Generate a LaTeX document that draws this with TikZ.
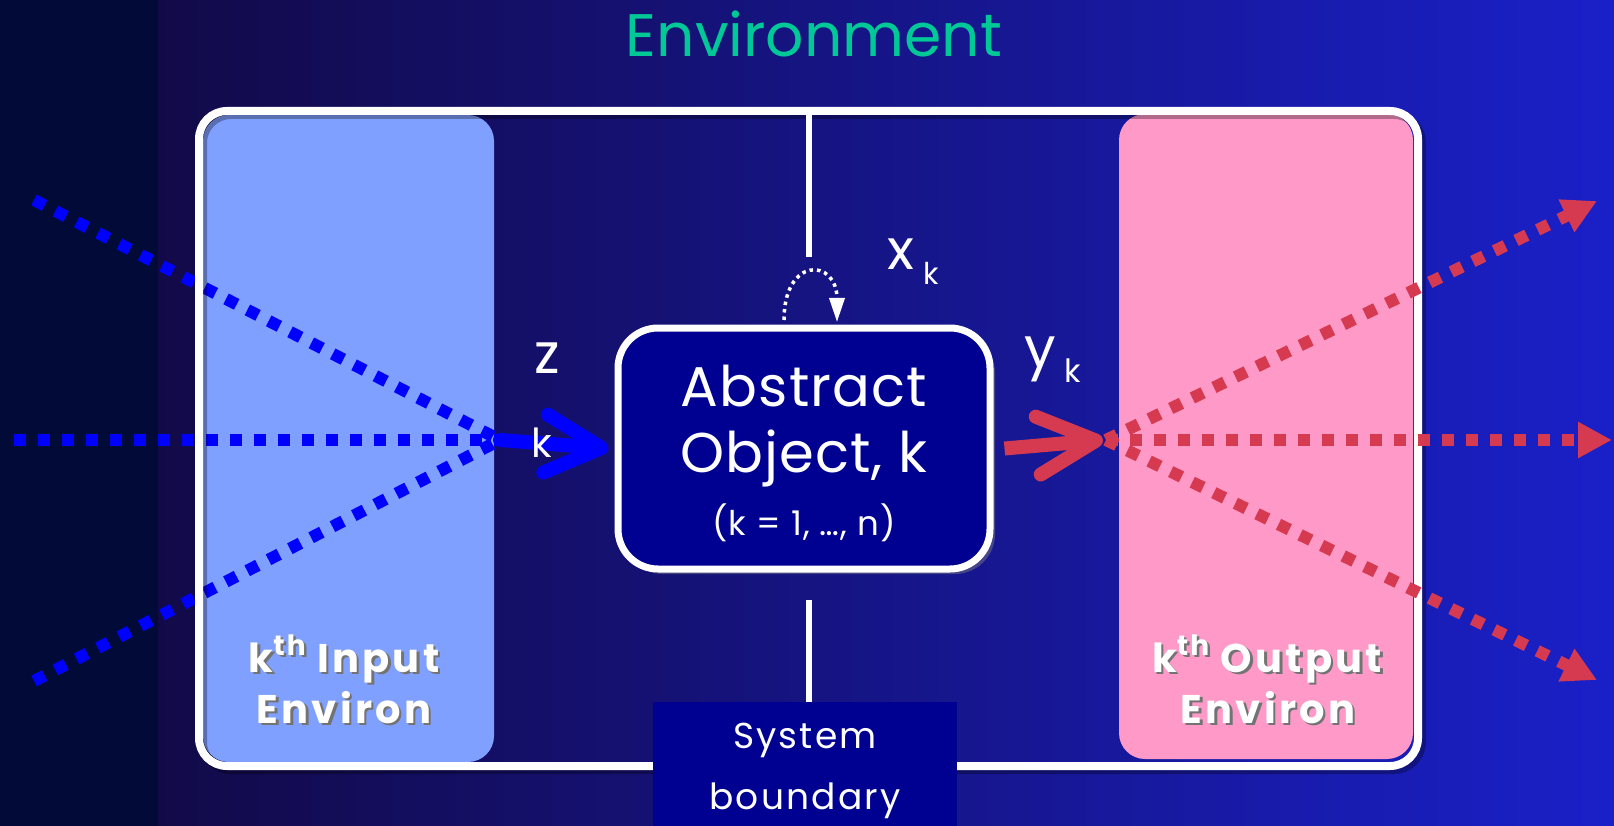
\documentclass[tikz,border=0pt]{standalone}
\usepackage{fontspec}
\setmainfont{Poppins}
\usetikzlibrary{arrows.meta,shadows}
\definecolor{stripc}{RGB}{2,10,55}
\definecolor{gradl}{RGB}{18,10,72}
\definecolor{gradr}{RGB}{26,32,200}
\definecolor{inpc}{RGB}{128,160,255}
\definecolor{outpc}{RGB}{255,153,200}
\definecolor{navyc}{RGB}{0,0,145}
\definecolor{envc}{RGB}{0,200,150}
\definecolor{bluec}{RGB}{0,0,255}
\definecolor{redc}{RGB}{214,58,80}
\newcommand\shtxt[1]{\leavevmode\rlap{\kern2.5pt\raisebox{-2.5pt}{\textcolor{black!55}{#1}}}#1}
\newcommand\fsz[1]{\fontsize{#1}{#1}\selectfont}
\newcommand\kth{k\raisebox{0.42em}{\fsz{28}th}}
\begin{document}
\begin{tikzpicture}[x=1pt,y=-1pt,
  panelbox/.style={rounded corners=26pt, inner sep=0pt, outer sep=0pt},
  framebox/.style={draw=white, line width=8pt, rounded corners=28pt, inner sep=0pt},
  objbox/.style={draw=white, fill=navyc, line width=7pt, rounded corners=40pt, inner sep=0pt,
    drop shadow={shadow xshift=5pt, shadow yshift=-5pt, opacity=0.45}},
  sysbox/.style={fill=navyc, inner sep=0pt},
  lbl/.style={text=white, inner sep=0pt, anchor=base},
  plabel/.style={text=white, inner sep=0pt, anchor=base, font=\bfseries\fsz{40}\addfontfeature{LetterSpace=8}},
  bdotline/.style={draw=bluec, line width=12pt, dash pattern=on 12pt off 12pt},
  rdotline/.style={draw=redc, line width=12pt, dash pattern=on 12pt off 12pt, -{Triangle[length=34pt,width=34pt]}},
  bthick/.style={draw=bluec, line width=14pt, line cap=round, -{Straight Barb[length=56pt,width=58pt,round]}},
  rthick/.style={draw=redc, line width=14pt, -{Straight Barb[length=58pt,width=58pt,round]}},
  vline/.style={draw=white, line width=5.5pt},
  loopline/.style={draw=white, line width=3.5pt, dash pattern=on 3.5pt off 4pt, -{Triangle[length=24pt,width=15pt]}}
]
\useasboundingbox (0,0) rectangle (1614,826);
% background
\fill[stripc] (0,0) rectangle (158,826);
\shade[left color=gradl, right color=gradr] (158,0) rectangle (1614,826);
% panels
\node[panelbox, fill=inpc, minimum width=291pt, minimum height=647pt] (inp) at (348.5,438.5) {};
\node[panelbox, fill=outpc, minimum width=294pt, minimum height=645pt] (outp) at (1266,436.5) {};
% blue dotted inputs
\coordinate (bconv) at (500,440);
\coordinate (bin1) at (34,200);
\coordinate (bin2) at (14,440);
\coordinate (bin3) at (34,681);
\draw[bdotline] (bin1) -- (bconv);
\draw[bdotline] (bin2) -- (bconv);
\draw[bdotline] (bin3) -- (bconv);
% frame
\draw[line width=8pt, black, opacity=0.3, rounded corners=28pt] (203,115) rectangle (1422,770);
\node[framebox, minimum width=1219pt, minimum height=655pt] (frm) at (808.5,438.5) {};
% red dotted outputs
\coordinate (rconv) at (1106,440);
\coordinate (rout1) at (1597,201);
\coordinate (rout2) at (1612,440);
\coordinate (rout3) at (1597,680);
\draw[rdotline] (rconv) -- (rout1);
\draw[rdotline] (rconv) -- (rout2);
\draw[rdotline] (rconv) -- (rout3);
% title
\node[text=envc, inner sep=0pt, anchor=base, font=\fsz{60}] (env) at (814,57) {Environment};
% object
\node[objbox, minimum width=372pt, minimum height=241pt] (obj) at (804,448.5) {};
\node[lbl, font=\fsz{56}\addfontfeature{LetterSpace=2}] (t1) at (804,406) {Abstract};
\node[lbl, font=\fsz{56}\addfontfeature{LetterSpace=2}] (t2) at (804,472) {Object, k};
\node[lbl, font=\fsz{34}\addfontfeature{LetterSpace=3}] (t3) at (804,535) {(k = 1, …, n)};
% vertical boundary lines and system boundary
\node[sysbox, anchor=north, minimum width=304pt, minimum height=130pt] (sysb) at (805,702) {};
\node[lbl, font=\fsz{36}\addfontfeature{LetterSpace=6}] (s1) at (805,748) {System};
\node[lbl, font=\fsz{36}\addfontfeature{LetterSpace=6}] (s2) at (805,809) {boundary};
\coordinate (vt1) at (809,115);
\coordinate (vt2) at (809,257);
\coordinate (vb1) at (809,600);
\draw[vline] (vt1) -- (vt2);
\draw[vline] (vb1) -- (vb1 |- sysb.north);
% self loop
\coordinate (lp1) at (784,320);
\coordinate (lp2) at (837,322);
\draw[loopline] (lp1) .. controls +(0,-64) and +(0,-64) .. (lp2);
% thick arrows
\draw[bthick] (bconv) -- ([xshift=-6pt]obj.west);
\draw[rthick] ([xshift=11pt]obj.east) -- ([xshift=-3pt]rconv);
% labels
\node[lbl, font=\fsz{56}] (zl) at (547,373) {z};
\node[lbl, font=\fsz{40}] (zk) at (542,457) {k};
\node[lbl, font=\fsz{56}] (xl) at (901,270) {x};
\node[lbl, font=\fsz{30}] (xk) at (931,285) {k};
\node[lbl, font=\fsz{56}] (yl) at (1040,367) {y};
\node[lbl, font=\fsz{32}] (yk) at (1073,382) {k};
% panel labels
\node[plabel] (il1) at (344,672) {\shtxt{\kth\ Input}};
\node[plabel] (il2) at (344,723) {\shtxt{Environ}};
\node[plabel] (ol1) at (1267,672) {\shtxt{\kth\ Output}};
\node[plabel] (ol2) at (1268,723) {\shtxt{Environ}};
\end{tikzpicture}
\end{document}
